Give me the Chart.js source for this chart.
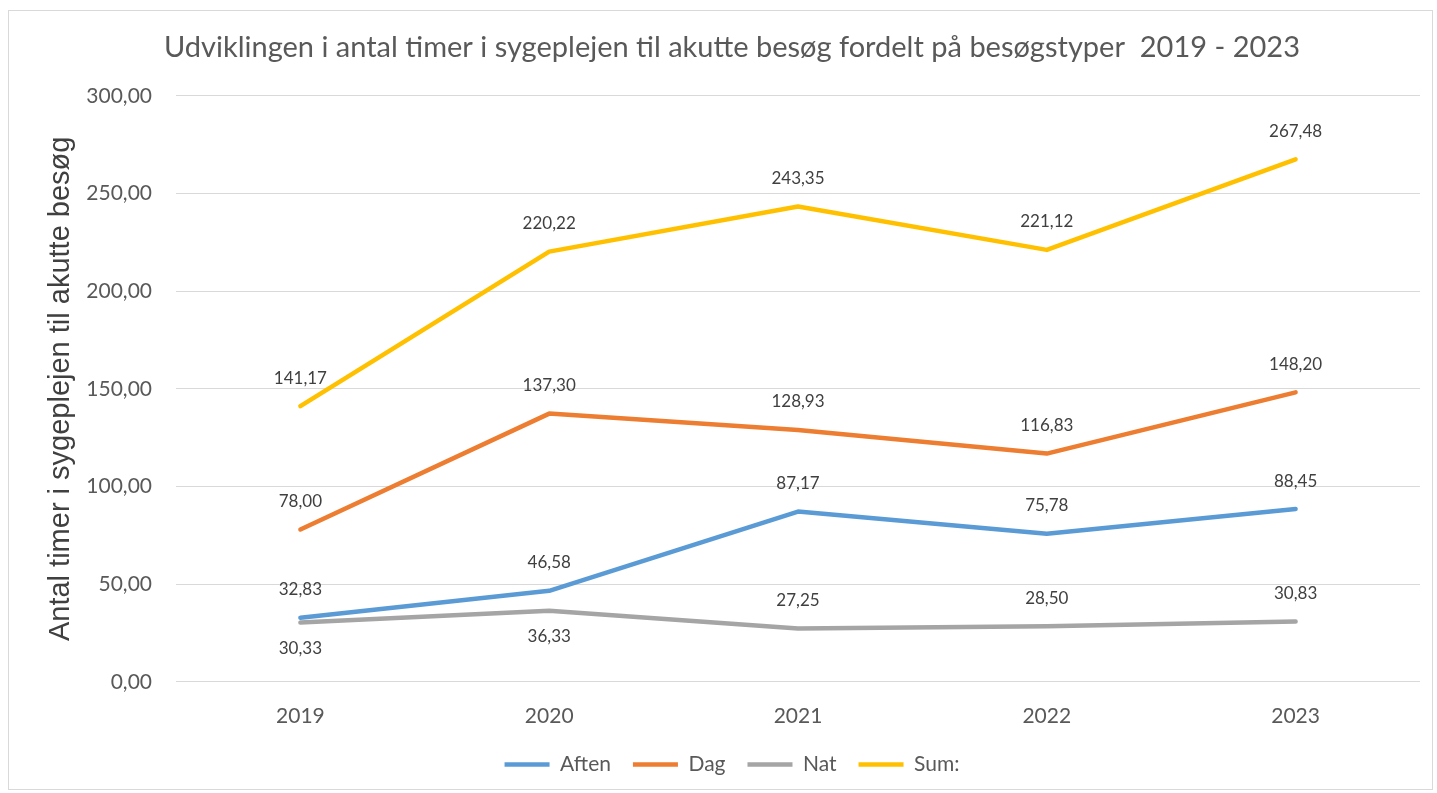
<!DOCTYPE html>
<html>
<head>
<meta charset="utf-8">
<script src="https://cdn.jsdelivr.net/npm/chart.js@4"></script>
<style>
  html, body { margin: 0; padding: 0; background: #fff; }
  #frame { position: absolute; left: 8px; top: 10px; width: 1425px; height: 780px; border: 1px solid #D9D9D9; box-sizing: border-box; }
  #chart { position: absolute; left: 0; top: 0; }
</style>
</head>
<body>
<div id="frame"></div>
<canvas id="chart" width="1437" height="793"></canvas>
<script>
// categories and values
const years = ["2019", "2020", "2021", "2022", "2023"];
const aften = [32.83, 46.58, 87.17, 75.78, 88.45];
const dag = [78.00, 137.30, 128.93, 116.83, 148.20];
const nat = [30.33, 36.33, 27.25, 28.50, 30.83];
const sum = [141.17, 220.22, 243.35, 221.12, 267.48];
const yTicks = [0, 50, 100, 150, 200, 250, 300];

// labels that Excel put under the point instead of above
const labelsBelow = { "Nat": [true, true, false, false, false] };

const fmt = v => v.toFixed(2).replace(".", ",");
const textFont = "Lato, 'Open Sans', sans-serif";

// draws the data labels above / below each point
const valueLabels = {
    id: "valueLabels",
    afterDatasetsDraw(chart) {
        const ctx = chart.ctx;
        ctx.save();
        ctx.font = "17px " + textFont;
        ctx.fillStyle = "#404040";
        ctx.textAlign = "center";
        ctx.textBaseline = "middle";
        chart.data.datasets.forEach((ds, i) => {
            const meta = chart.getDatasetMeta(i);
            const below = labelsBelow[ds.label] || [];
            meta.data.forEach((pt, j) => {
                const dy = below[j] ? 26 : -28;
                ctx.fillText(fmt(ds.data[j]), pt.x, pt.y + dy);
            });
        });
        ctx.restore();
    }
};

const lineDs = (label, data, color) => ({
    label: label,
    data: data,
    borderColor: color,
    backgroundColor: color,
    borderWidth: 4.5,
    pointRadius: 0,
    pointHoverRadius: 0,
    pointStyle: "line",
    tension: 0,
    borderCapStyle: "round",
    borderJoinStyle: "round"
});

new Chart(document.getElementById("chart"), {
    type: "line",
    data: {
        labels: years,
        datasets: [
            lineDs("Aften", aften, "#5B9BD5"),
            lineDs("Dag", dag, "#ED7D31"),
            lineDs("Nat", nat, "#A5A5A5"),
            lineDs("Sum:", sum, "#FFC000")
        ]
    },
    options: {
        responsive: false,
        animation: false,
        layout: { padding: { left: 44, right: 17, top: 10, bottom: 8 } },
        plugins: {
            title: {
                display: true,
                text: "Udviklingen i antal timer i sygeplejen til akutte besøg fordelt på besøgstyper  2019 - 2023",
                color: "#595959",
                font: { family: textFont, size: 29, weight: "normal" },
                padding: { top: 20, bottom: 31 }
            },
            legend: {
                position: "bottom",
                labels: {
                    usePointStyle: true,
                    pointStyleWidth: 45,
                    color: "#595959",
                    font: { family: textFont, size: 21 },
                    padding: 22
                }
            },
            tooltip: { enabled: false }
        },
        scales: {
            x: {
                offset: true,
                grid: { display: false, drawTicks: false },
                border: { display: false },
                afterFit: s => { s.height = s.height - 19; },
                ticks: { color: "#595959", font: { family: textFont, size: 21 }, padding: 22 }
            },
            y: {
                min: 0,
                max: 300,
                afterBuildTicks: s => { s.ticks = yTicks.map(v => ({ value: v })); },
                afterFit: s => { s.width = 132; },
                grid: { color: "#D9D9D9", lineWidth: 1, drawTicks: false },
                border: { display: false },
                ticks: {
                    color: "#595959",
                    font: { family: textFont, size: 21 },
                    padding: 24,
                    callback: v => fmt(v)
                },
                title: {
                    display: true,
                    text: "Antal timer i sygeplejen til akutte besøg",
                    color: "#404040",
                    font: { family: "'Liberation Sans', Arial, sans-serif", size: 29 },
                    padding: { top: 0, bottom: 0 }
                }
            }
        }
    },
    plugins: [valueLabels]
});
</script>
</body>
</html>
